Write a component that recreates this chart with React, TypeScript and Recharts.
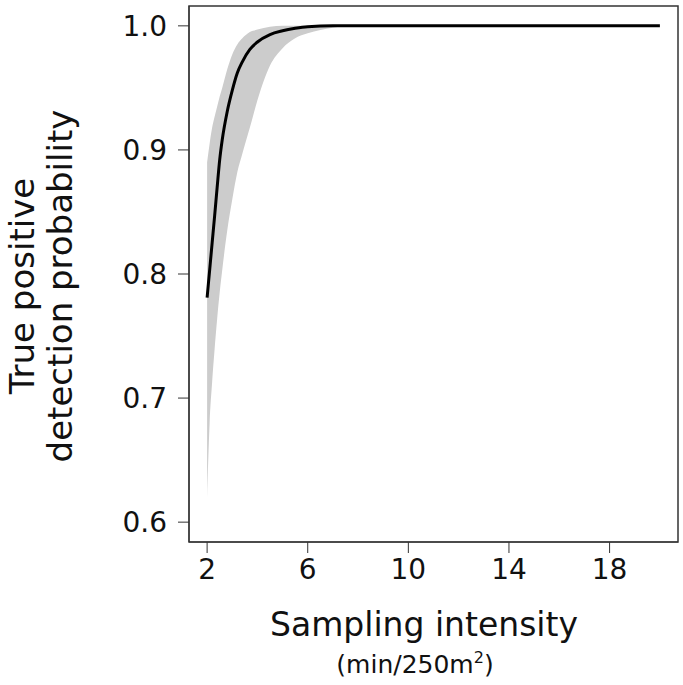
import React from 'react'
import { ComposedChart, Area, Line, XAxis, YAxis, ReferenceArea } from 'recharts'

// sampling intensity (min/250m2)
const intensity = [2, 2.1, 2.2, 2.3, 2.4, 2.5, 2.6, 2.8, 3.0, 3.2, 3.4, 3.7, 4.0, 4.5, 5.0, 5.5, 6.0, 7.0, 8.0, 10, 14, 20]
// mean true positive detection probability
const meanProb = [0.781, 0.803, 0.825, 0.847, 0.87, 0.892, 0.908, 0.931, 0.948, 0.962, 0.971, 0.981, 0.987, 0.993, 0.996, 0.998, 0.9993, 1.0, 1.0, 1.0, 1.0, 1.0]
// lower / upper bounds of the shaded interval
const lowerProb = [0.619, 0.68, 0.713, 0.74, 0.764, 0.785, 0.803, 0.835, 0.86, 0.882, 0.897, 0.918, 0.94, 0.968, 0.982, 0.99, 0.994, 0.9985, 1.0, 1.0, 1.0, 1.0]
const upperProb = [0.89, 0.905, 0.918, 0.927, 0.935, 0.943, 0.95, 0.965, 0.977, 0.985, 0.99, 0.995, 0.997, 0.9993, 1.0, 1.0, 1.0, 1.0, 1.0, 1.0, 1.0, 1.0]

const xTicks = [2, 6, 10, 14, 18]
const yTicks = [0.6, 0.7, 0.8, 0.9, 1.0]

const X_DOMAIN: [number, number] = [1.28, 20.72]
const Y_DOMAIN: [number, number] = [0.584, 1.016]

const FONT = '"DejaVu Sans", Verdana, sans-serif'

const data = intensity.map((x, i) => ({
  x,
  mean: meanProb[i],
  band: [lowerProb[i], upperProb[i]],
}))

export default function App() {
  return (
    <div style={{ position: 'absolute', left: 0, top: 0, width: 683, height: 685, background: '#fff' }}>
      <ComposedChart width={683} height={685} data={data} margin={{ top: 6, right: 5, bottom: 0, left: 0 }}>
        <XAxis
          dataKey="x"
          type="number"
          domain={X_DOMAIN}
          ticks={xTicks}
          allowDataOverflow
          height={143}
          tickSize={11}
          tickMargin={6}
          stroke="#333"
          tick={{ fontFamily: FONT, fontSize: 28, fill: '#111' }}
        />
        <YAxis
          type="number"
          domain={Y_DOMAIN}
          ticks={yTicks}
          allowDataOverflow
          width={189}
          tickSize={11}
          tickMargin={11}
          stroke="#333"
          tickFormatter={(v: number) => v.toFixed(1)}
          tick={{ fontFamily: FONT, fontSize: 28, fill: '#111' }}
        />
        <Area
          dataKey="band"
          type="monotone"
          stroke="none"
          fill="#cccccc"
          fillOpacity={1}
          isAnimationActive={false}
        />
        <Line
          dataKey="mean"
          type="monotone"
          stroke="#000"
          strokeWidth={3}
          dot={false}
          isAnimationActive={false}
        />
        <ReferenceArea
          x1={X_DOMAIN[0]}
          x2={X_DOMAIN[1]}
          y1={Y_DOMAIN[0]}
          y2={Y_DOMAIN[1]}
          stroke="#333"
          strokeWidth={1.5}
          fill="none"
          ifOverflow="visible"
        />
      </ComposedChart>
      <svg width={683} height={685} style={{ position: 'absolute', left: 0, top: 0, pointerEvents: 'none' }}>
        <text x={424} y={636} textAnchor="middle" fontFamily={FONT} fontSize={33} fill="#111">
          Sampling intensity
        </text>
        <text x={415} y={673} textAnchor="middle" fontFamily={FONT} fontSize={25} fill="#111">
          (min/250m<tspan dy={-10} fontSize={16}>2</tspan><tspan dy={10}>)</tspan>
        </text>
        <g transform="translate(0, 286) rotate(-90)">
          <text x={0} y={34} textAnchor="middle" fontFamily={FONT} fontSize={34} fill="#111">
            True positive
          </text>
          <text x={0} y={72} textAnchor="middle" fontFamily={FONT} fontSize={34} fill="#111">
            detection probability
          </text>
        </g>
      </svg>
    </div>
  )
}
